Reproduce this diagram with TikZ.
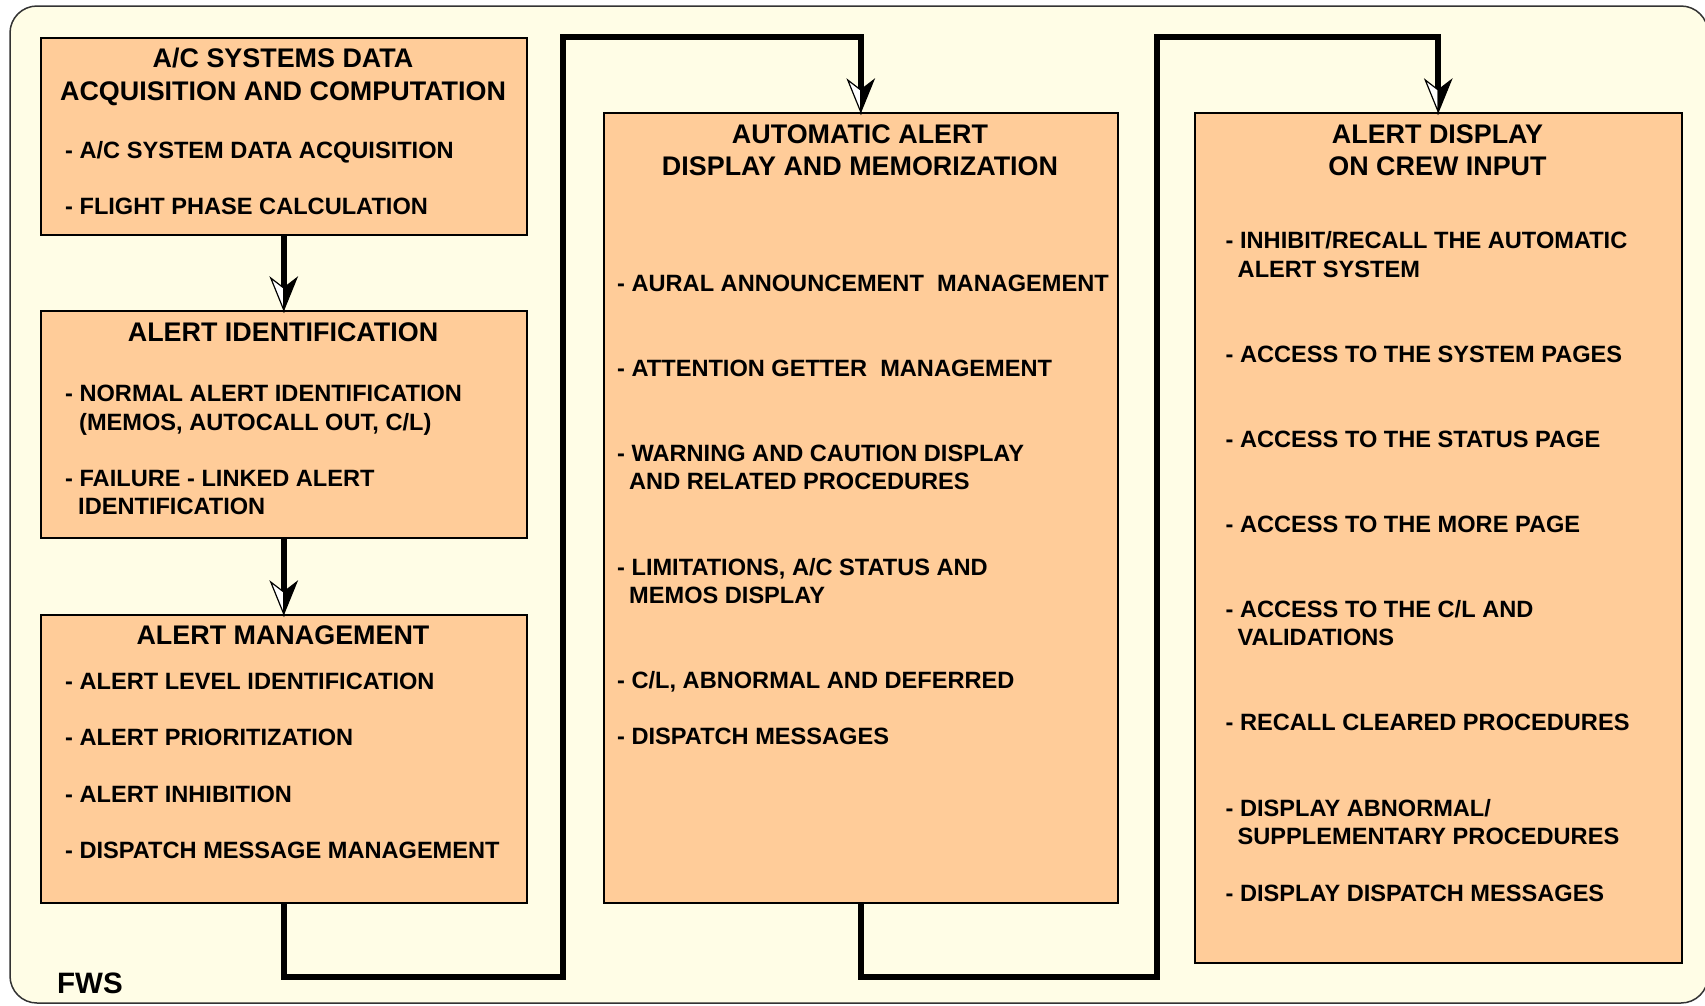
\documentclass[tikz,border=0pt]{standalone}
\usepackage{fontspec}
\setmainfont{Liberation Sans}
\usepackage{tikz}
\usetikzlibrary{arrows.meta,calc,positioning}

\definecolor{framecream}{HTML}{FFFDE6}
\definecolor{boxpeach}{HTML}{FFCC99}

% half white / half black arrow head
\pgfdeclarearrow{
  name = SplitTip,
  setup code = {
    \pgfarrowssettipend{0pt}
    \pgfarrowssetlineend{-22pt}
    \pgfarrowssetbackend{-32pt}
    \pgfarrowshullpoint{0pt}{0pt}
    \pgfarrowshullpoint{-32pt}{13pt}
    \pgfarrowshullpoint{-32pt}{-13pt}
  },
  drawing code = {
    \pgfsetlinewidth{1.2pt}
    \pgfsetmiterjoin
    \pgfsetstrokecolor{black}
    \pgfsetfillcolor{white}
    \pgfpathmoveto{\pgfqpoint{0pt}{0pt}}
    \pgfpathlineto{\pgfqpoint{-32pt}{-13pt}}
    \pgfpathlineto{\pgfqpoint{-22pt}{0pt}}
    \pgfpathclose
    \pgfusepathqfillstroke
    \pgfsetfillcolor{black}
    \pgfpathmoveto{\pgfqpoint{0pt}{0pt}}
    \pgfpathlineto{\pgfqpoint{-32pt}{13pt}}
    \pgfpathlineto{\pgfqpoint{-22pt}{0pt}}
    \pgfpathclose
    \pgfusepathqfillstroke
  }
}

\tikzset{
  box/.style={draw=black, line width=1.5pt, fill=boxpeach, anchor=north west, inner sep=0pt},
  head/.style={font=\bfseries\fontsize{26.9}{31}\selectfont, anchor=base, inner sep=0pt},
  item/.style={font=\bfseries\fontsize{23.6}{28}\selectfont, anchor=base west, inner sep=0pt},
  flow/.style={line width=6pt, -SplitTip}
}

\begin{document}
\begin{tikzpicture}[x=1pt,y=-1pt]
            \useasboundingbox (0,0) rectangle (1705,1005);
            \draw[black!80, line width=1.5pt, fill=framecream, rounded corners=27pt] (10,6) rectangle (1708,1003);

            % boxes
            \node[box, minimum width=486pt, minimum height=197pt] (acq) at (40,37) {};
            \node[box, minimum width=486pt, minimum height=227pt] (ident) at (40,310) {};
            \node[box, minimum width=486pt, minimum height=288pt] (mgmt) at (40,614) {};
            \node[box, minimum width=514pt, minimum height=790pt] (auto) at (603,112) {};
            \node[box, minimum width=487pt, minimum height=850pt] (disp) at (1194,112) {};

            % first box
            \node[head] (a1) at (283,67) {A/C SYSTEMS DATA};
            \node[head] (a2) at (283,100) {ACQUISITION AND COMPUTATION};
            \node[item] (a3) at (65,158.5) {- A/C SYSTEM DATA ACQUISITION};
            \node[item] (a4) at (65,214.5) {- FLIGHT PHASE CALCULATION};

            % second box
            \node[head] (b1) at (283,341) {ALERT IDENTIFICATION};
            \node[item] (b2) at (65,401) {- NORMAL ALERT IDENTIFICATION};
            \node[item] (b3) at (79,430.5) {(MEMOS, AUTOCALL OUT, C/L)};
            \node[item] (b4) at (65,486) {- FAILURE - LINKED ALERT};
            \node[item] (b5) at (78,514) {IDENTIFICATION};

            % third box
            \node[head] (c1) at (283,644) {ALERT MANAGEMENT};
            \node[item] (c2) at (65,689) {- ALERT LEVEL IDENTIFICATION};
            \node[item] (c3) at (65,745.5) {- ALERT PRIORITIZATION};
            \node[item] (c4) at (65,802) {- ALERT INHIBITION};
            \node[item] (c5) at (65,858.5) {- DISPATCH MESSAGE MANAGEMENT};

            % fourth box
            \node[head] (d1) at (860,143.5) {AUTOMATIC ALERT};
            \node[head] (d2) at (860,175) {DISPLAY AND MEMORIZATION};
            \node[item] (d3) at (617,291) {- AURAL ANNOUNCEMENT\ \ MANAGEMENT};
            \node[item] (d4) at (617,376) {- ATTENTION GETTER\ \ MANAGEMENT};
            \node[item] (d5) at (617,461) {- WARNING AND CAUTION DISPLAY};
            \node[item] (d6) at (629,489) {AND RELATED PROCEDURES};
            \node[item] (d7) at (617,575) {- LIMITATIONS, A/C STATUS AND};
            \node[item] (d8) at (629,603) {MEMOS DISPLAY};
            \node[item] (d9) at (617,688) {- C/L, ABNORMAL AND DEFERRED};
            \node[item] (d10) at (617,744.5) {- DISPATCH MESSAGES};

            % fifth box
            \node[head] (e1) at (1437.5,143.5) {ALERT DISPLAY};
            \node[head] (e2) at (1437.5,175) {ON CREW INPUT};
            \node[item] (e3) at (1225.5,248.5) {- INHIBIT/RECALL THE AUTOMATIC};
            \node[item] (e4) at (1237.5,277) {ALERT SYSTEM};
            \node[item] (e5) at (1225.5,362) {- ACCESS TO THE SYSTEM PAGES};
            \node[item] (e6) at (1225.5,447.5) {- ACCESS TO THE STATUS PAGE};
            \node[item] (e7) at (1225.5,532.5) {- ACCESS TO THE MORE PAGE};
            \node[item] (e8) at (1225.5,617) {- ACCESS TO THE C/L AND};
            \node[item] (e9) at (1237.5,645.5) {VALIDATIONS};
            \node[item] (e10) at (1225.5,730.5) {- RECALL CLEARED PROCEDURES};
            \node[item] (e11) at (1225.5,816) {- DISPLAY ABNORMAL/};
            \node[item] (e12) at (1237.5,844.5) {SUPPLEMENTARY PROCEDURES};
            \node[item] (e13) at (1225.5,901) {- DISPLAY DISPATCH MESSAGES};

            \node[font=\bfseries\fontsize{29.5}{35}\selectfont, anchor=base west, inner sep=0pt] (fws) at (57,993) {FWS};

            % connectors
            \coordinate (low1) at (563,977);
            \coordinate (top1) at (563,37);
            \coordinate (low2) at (1157,977);
            \coordinate (top2) at (1157,37);
            \draw[flow] (acq.south) -- (ident.north);
            \draw[flow] (ident.south) -- (mgmt.north);
            \draw[flow] (mgmt.south) |- (low1) -- (top1) -| (auto.north);
            \draw[flow] (auto.south) |- (low2) -- (top2) -| (disp.north);
          \end{tikzpicture}
\end{document}
